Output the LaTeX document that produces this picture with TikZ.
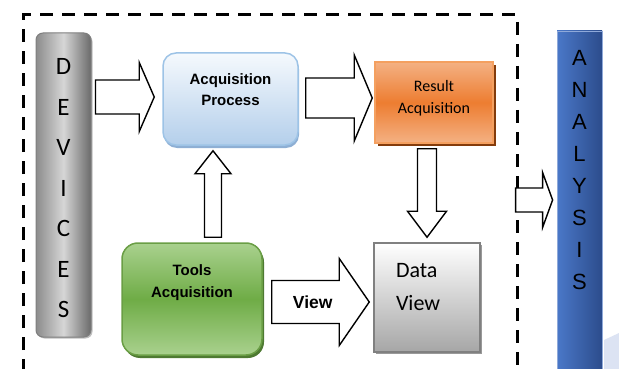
\documentclass[tikz,border=0pt]{standalone}
\usepackage{fontspec}
\setmainfont{Liberation Sans}
\newfontfamily\calibri{Carlito}
\usepackage{tikz}
\usetikzlibrary{positioning,calc,shadows}
\definecolor{devline}{HTML}{7F7F7F}
\definecolor{devside}{HTML}{8C8C8C}
\definecolor{devlight}{HTML}{D6D6D6}
\definecolor{devdark}{HTML}{6A6A6A}
\definecolor{acqtop}{HTML}{F5F9FD}
\definecolor{acqbot}{HTML}{B4CFEB}
\definecolor{acqline}{HTML}{9DC3E6}
\definecolor{acqshadow}{HTML}{8EAFD4}
\definecolor{resmid}{HTML}{ED7D31}
\definecolor{resout}{HTML}{F4B183}
\definecolor{resline}{HTML}{F4A060}
\definecolor{resshadow}{HTML}{843C0C}
\definecolor{toolmid}{HTML}{6FAC46}
\definecolor{toolout}{HTML}{A9D18E}
\definecolor{toolline}{HTML}{6A9E45}
\definecolor{toolshadow}{HTML}{4E7A32}
\definecolor{datagray}{HTML}{A6A6A6}
\definecolor{dataline}{HTML}{808080}
\definecolor{anlight}{HTML}{4A78C8}
\definecolor{andark}{HTML}{2C4C8C}
\definecolor{anline}{HTML}{8FA9D9}
\definecolor{anfade}{HTML}{DCE3F3}
\tikzset{
  frame/.style={line width=3pt, dash pattern=on 13pt off 9pt},
  devbar/.style={draw=devline, line width=1pt, rounded corners=7pt, left color=devside, right color=devdark, middle color=devlight, align=center, font=\calibri\fontsize{25}{40.5}\selectfont, text height=265pt, text depth=0pt, drop shadow={shadow xshift=1.5pt, shadow yshift=-1.5pt, fill=black, opacity=.25}},
  anbar/.style={draw=anline, line width=.8pt, left color=anlight, right color=andark, align=center, font=\fontsize{22}{32}\selectfont, text depth=70pt},
  acqbox/.style={draw=acqline, line width=1.5pt, rounded corners=13pt, top color=acqtop, bottom color=acqbot, align=center, font=\bfseries\fontsize{15}{21}\selectfont, text depth=19pt, drop shadow={shadow xshift=1pt, shadow yshift=-3pt, fill=acqshadow, opacity=1}},
  resbox/.style={draw=resline, line width=1.5pt, top color=resout, bottom color=resout, middle color=resmid, align=center, font=\calibri\fontsize{16}{22}\selectfont, text depth=12pt, drop shadow={shadow xshift=3pt, shadow yshift=-3pt, fill=resshadow, opacity=1}},
  toolbox/.style={draw=toolline, line width=1.5pt, rounded corners=16pt, top color=toolout, bottom color=toolout, middle color=toolmid, align=center, font=\bfseries\fontsize{15}{21.5}\selectfont, text depth=36pt, drop shadow={shadow xshift=2pt, shadow yshift=-3pt, fill=toolshadow, opacity=1}},
  databox/.style={draw=dataline, line width=1.5pt, top color=white, bottom color=datagray, align=left, text width=62pt, inner xsep=0pt, font=\calibri\fontsize{22}{33}\selectfont, text depth=55pt, drop shadow={shadow xshift=2pt, shadow yshift=-2pt, fill=gray, opacity=.8}},
  blockarrow/.style={draw=black, line width=1.4pt, fill=white, line join=miter},
  arrowtext/.style={font=\bfseries\fontsize{17.5}{20}\selectfont}
}
% tail, tip, shaft half width, head half width, head length
\newcommand{\blockarr}[5]{%
  \draw[blockarrow] ($(#1)!#3!90:(#2)$) -- ($(#2)!#5!(#1)!#3!90:(#2)$)
    -- ($(#2)!#5!(#1)!#4!90:(#2)$) -- (#2)
    -- ($(#2)!#5!(#1)!#4!-90:(#2)$) -- ($(#2)!#5!(#1)!#3!-90:(#2)$)
    -- ($(#1)!#3!-90:(#2)$) -- cycle;}
\begin{document}
\begin{tikzpicture}[x=1pt, y=-1pt]
  \useasboundingbox (0,0) rectangle (619,369);
  \draw[frame] (23,372) -- (23,15) -- (517,15) -- (517,372);
  \fill[anfade] (604,340) -- (619,333) -- (619,369) -- (604,369) -- cycle;

  \node[devbar, minimum width=55pt, minimum height=304pt] (dev) at (63.5,185) {D\\E\\V\\I\\C\\E\\S};
  \node[anbar, minimum width=45pt, minimum height=348pt] (ana) at (579.5,205) {A\\N\\A\\L\\Y\\S\\I\\S};
  \node[acqbox, minimum width=135pt, minimum height=92pt] (acq) at (230.5,99) {Acquisition\\Process};
  \node[resbox, minimum width=118pt, minimum height=81pt] (res) at (434,102.5) {Result\\Acquisition};
  \node[toolbox, minimum width=140pt, minimum height=112pt] (tools) at (192,299) {Tools\\Acquisition};
  \node[databox, minimum width=106pt, minimum height=109pt] (data) at (427,297.5) {Data\\View};

  \coordinate (a1s) at ($(dev.east |- acq.west)+(4,-2)$);
  \coordinate (a1e) at ($(acq.west)+(-8,-2)$);
  \coordinate (a2s) at ($(acq.east)+(7,-1)$);
  \coordinate (a2e) at ($(res.west |- acq.east)+(-2,-1)$);
  \coordinate (a3s) at ($(data.north |- res.south)+(0,5)$);
  \coordinate (a3e) at ($(data.north)+(0,-5)$);
  \coordinate (a4s) at ($(tools.north)+(21,-5)$);
  \coordinate (a4e) at ($(tools.north |- acq.south)+(21,5)$);
  \coordinate (a5s) at ($(tools.east)+(9,3)$);
  \coordinate (a5e) at ($(data.west |- tools.east)+(-4,3)$);
  \coordinate (a6s) at ($(ana.west)+(-41,-5)$);
  \coordinate (a6e) at ($(ana.west)+(-4,-5)$);

  \blockarr{a1s}{a1e}{17pt}{34.5pt}{15pt}
  \blockarr{a2s}{a2e}{20pt}{43pt}{18pt}
  \blockarr{a3s}{a3e}{9.5pt}{19.5pt}{26pt}
  \blockarr{a4s}{a4e}{8.5pt}{18pt}{23pt}
  \blockarr{a5s}{a5e}{21.5pt}{43.5pt}{30pt}
  \blockarr{a6s}{a6e}{12pt}{27.5pt}{10pt}
  \node[arrowtext] (view) at ($(a5s)!0.42!(a5e)$) {View};
\end{tikzpicture}
\end{document}
